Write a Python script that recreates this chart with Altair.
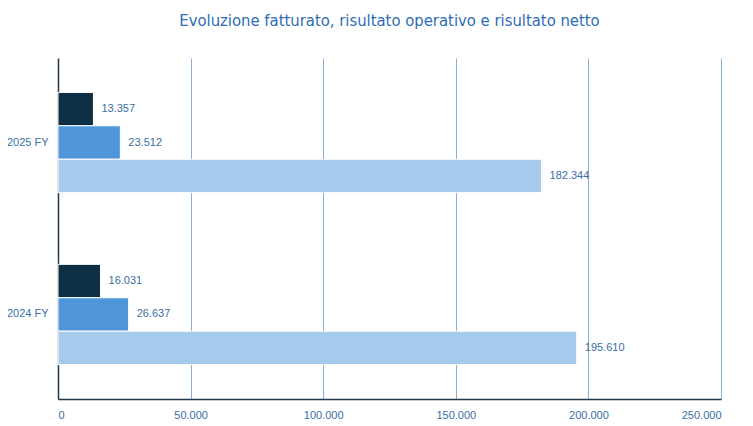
import altair as alt
import pandas as pd

periods = ["2025 FY", "2025 FY", "2025 FY", "2024 FY", "2024 FY", "2024 FY"]
series = ["Risultato netto", "Risultato operativo", "Fatturato",
          "Risultato netto", "Risultato operativo", "Fatturato"]
values = [13357, 23512, 182344, 16031, 26637, 195610]

period_order = ["2025 FY", "2024 FY"]
series_order = ["Risultato netto", "Risultato operativo", "Fatturato"]
series_colors = ["#0E2F44", "#4E95D9", "#A6CAEC"]
x_ticks = [0, 50000, 100000, 150000, 200000, 250000]

df = pd.DataFrame({"periodo": periods, "serie": series, "valore": values})

text_color = "#3A6EA5"

y = alt.Y("periodo:N", sort=period_order, title=None,
          scale=alt.Scale(paddingInner=0.417, paddingOuter=0.2),
          axis=alt.Axis(domain=True, domainColor="#1F3A4D", domainWidth=1.5,
                        ticks=False, labelPadding=10, labelFontSize=11,
                        labelColor=text_color, labelFont="Liberation Sans", grid=False))
x = alt.X("valore:Q", title=None,
          scale=alt.Scale(domain=[0, 250000], nice=False),
          axis=alt.Axis(values=x_ticks, domain=True, domainColor="#1F3A4D", domainWidth=1.5,
                        ticks=False, labelPadding=10, labelFontSize=11,
                        labelColor=text_color, labelFont="Liberation Sans",
                        grid=True, gridColor="#8AAED4", gridWidth=1,
                        labelExpr="replace(format(datum.value, ',d'), /,/g, '.')"))
yoff = alt.YOffset("serie:N", sort=series_order, scale=alt.Scale(paddingInner=0, paddingOuter=0))

base = alt.Chart(df).encode(y=y, yOffset=yoff)

bars = base.mark_bar(stroke="white", strokeWidth=1).encode(
    x=x,
    color=alt.Color("serie:N", sort=series_order,
                    scale=alt.Scale(domain=series_order, range=series_colors), legend=None),
)

labels = base.transform_calculate(
    lab="replace(format(datum.valore, ',d'), /,/g, '.')"
).mark_text(align="left", baseline="middle", dx=8, fontSize=11,
            font="Liberation Sans", color=text_color).encode(
    x=alt.X("valore:Q"),
    text="lab:N",
)

chart = alt.layer(bars, labels).properties(
    width=663, height=341,
    autosize=alt.AutoSizeParams(type="none"),
    padding={"left": 50, "top": 50, "right": 24, "bottom": 28},
    title=alt.TitleParams("Evoluzione fatturato, risultato operativo e risultato netto",
                          font="DejaVu Sans Condensed, Lato, sans-serif", fontSize=16.5,
                          fontWeight="normal",
                          color="#2E6DB4", anchor="middle", offset=29),
).configure_view(stroke=None)

chart.save("out.html", embed_options={"renderer": "svg", "actions": False})
